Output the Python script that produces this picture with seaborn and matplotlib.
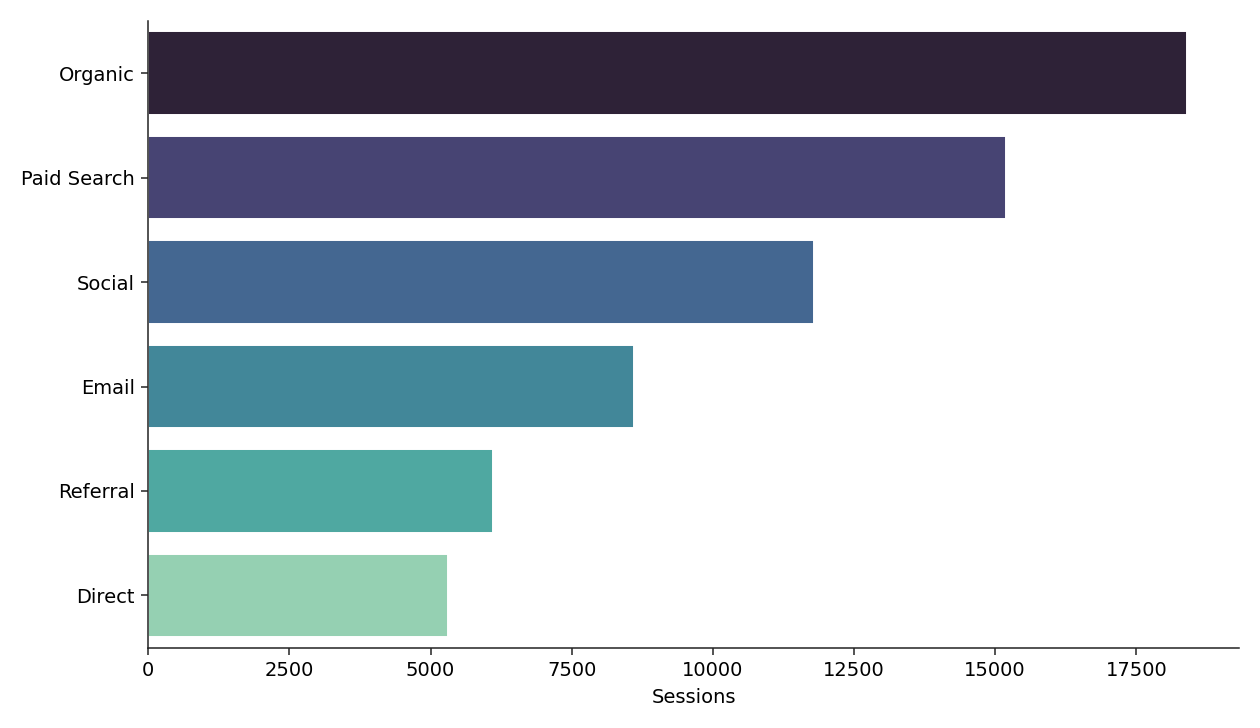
import seaborn as sns
import matplotlib.pyplot as plt
import pandas as pd

# traffic sources and their sessions
channels = ["Organic", "Paid Search", "Social", "Email", "Referral", "Direct"]
sessions = [18400, 15200, 11800, 8600, 6100, 5300]

df = pd.DataFrame({"channel": channels, "sessions": sessions})

sns.set_style("ticks")
plt.rcParams["text.color"] = "black"
plt.rcParams["xtick.labelcolor"] = "black"
plt.rcParams["ytick.labelcolor"] = "black"
plt.rcParams["axes.labelcolor"] = "black"

fig, ax = plt.subplots(figsize=(9, 5.2), dpi=140)
sns.barplot(data=df, x="sessions", y="channel", hue="channel",
            palette="mako", legend=False, ax=ax)
ax.set_xlabel("Sessions")
ax.set_ylabel("")
sns.despine()
plt.tight_layout()
plt.savefig("out.png")
